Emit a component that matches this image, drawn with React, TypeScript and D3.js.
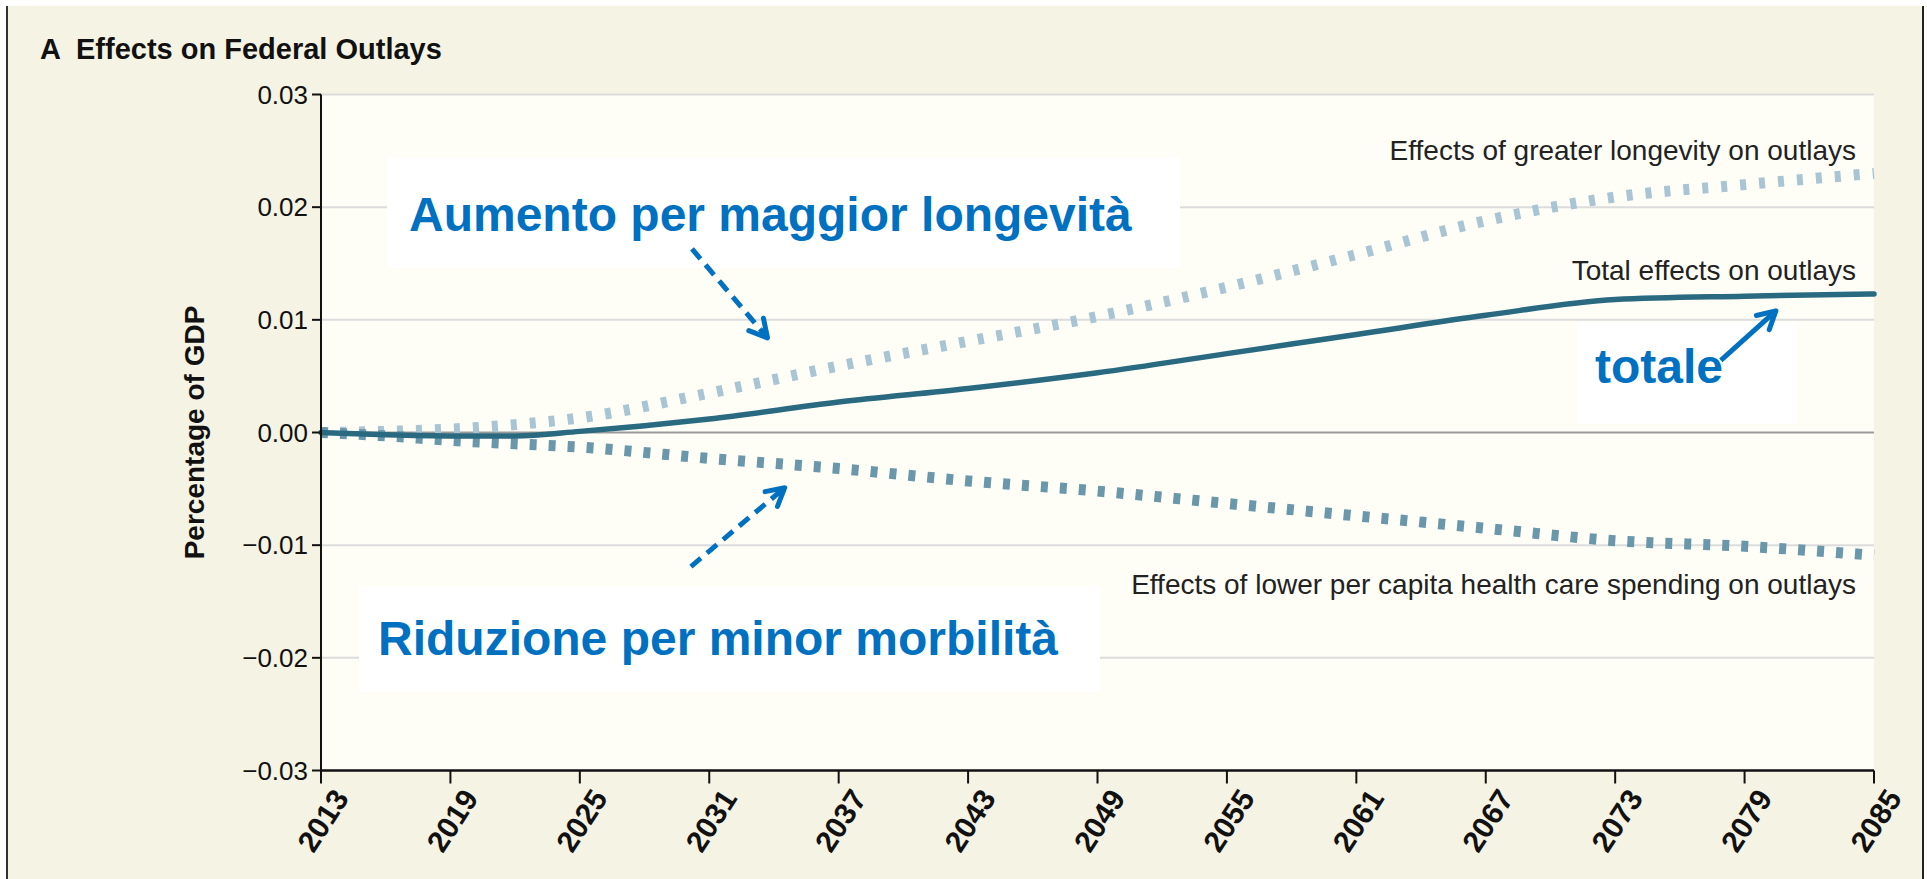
import * as d3 from 'd3';

// years and the three series (percentage of GDP)
const years = [2013, 2016, 2019, 2022, 2025, 2031, 2037, 2043, 2049, 2055, 2061, 2067, 2073, 2079, 2085];
const longevity = [0, 0.0001, 0.0003, 0.0007, 0.0013, 0.0035, 0.0059, 0.0081, 0.0103, 0.0129, 0.0158, 0.0188, 0.0209, 0.022, 0.023];
const lowerSpending = [0, -0.0003, -0.0007, -0.001, -0.0013, -0.0023, -0.0032, -0.0043, -0.0052, -0.0063, -0.0074, -0.0085, -0.0096, -0.0101, -0.0109];
const total = [0, -0.0002, -0.0003, -0.0003, 0.0001, 0.0012, 0.0027, 0.0039, 0.0053, 0.007, 0.0087, 0.0104, 0.0118, 0.0121, 0.0123];

const xTicks = d3.range(2013, 2086, 6);
const yTicks = [0.03, 0.02, 0.01, 0, -0.01, -0.02, -0.03];

const W = 1927;
const H = 879;
const margin = { top: 94.5, right: 53, bottom: 108.5, left: 321 };

const font = "'Liberation Sans', Arial, sans-serif";

function App() {
    const x = d3.scaleLinear().domain([2013, 2085]).range([margin.left, W - margin.right]);
    const y = d3.scaleLinear().domain([-0.03, 0.03]).range([H - margin.bottom, margin.top]);

    const line = (vals: number[]) =>
        d3.line<number>()
            .x((_, i) => x(years[i]))
            .y(d => y(d))
            .curve(d3.curveMonotoneX)(vals) || '';

    const fmt = (v: number) => (v < 0 ? '\u2212' : '') + Math.abs(v).toFixed(2);

    // annotation arrows in data space: [year, value] -> [year, value]
    const arrows = [
        { from: [2030.2, 0.0163], to: [2033.7, 0.0084], dash: '13 8' },
        { from: [2030.15, -0.0119], to: [2034.5, -0.0049], dash: '13 8' },
        { from: [2077.9, 0.0064], to: [2080.45, 0.0108], dash: null },
    ];

    const head = (a: any) => {
        const x1 = x(a.from[0]), y1 = y(a.from[1]);
        const x2 = x(a.to[0]), y2 = y(a.to[1]);
        const ang = Math.atan2(y2 - y1, x2 - x1);
        const L = 20;
        const s = 0.5;
        const p1 = [x2 - L * Math.cos(ang - s), y2 - L * Math.sin(ang - s)];
        const p2 = [x2 - L * Math.cos(ang + s), y2 - L * Math.sin(ang + s)];
        return `M${p1[0]},${p1[1]}L${x2},${y2}L${p2[0]},${p2[1]}`;
    };

    const plotH = H - margin.top - margin.bottom;
    const plotW = W - margin.left - margin.right;

    return (
        <svg width={W} height={H} style={{ position: 'absolute', left: 0, top: 0 }} fontFamily={font}>
            <rect x={0} y={0} width={W} height={H} fill='#ffffff' />
            <rect x={7} y={6} width={1916} height={H - 6} fill='#f5f3e4' />
            <line x1={7} y1={6} x2={7} y2={H} stroke='#333' strokeWidth={2} />
            <line x1={1923} y1={6} x2={1923} y2={H} stroke='#222' strokeWidth={2} />

            <text x={40} y={59} fontSize={29} fontWeight='bold' fill='#111'>A</text>
            <text x={76} y={59} fontSize={29} fontWeight='bold' fill='#111'>Effects on Federal Outlays</text>

            {/* plot area */}
            <rect x={margin.left} y={margin.top} width={plotW} height={plotH} fill='#fefef7' />
            {yTicks.filter(t => t !== 0 && t !== -0.03).map(t => (
                <line key={t} x1={margin.left} x2={W - margin.right} y1={y(t)} y2={y(t)} stroke='#dcdcdc' strokeWidth={2} />
            ))}

            {/* annotation boxes */}
            <rect x={387} y={157} width={793} height={111} fill='#ffffff' />
            <rect x={359} y={586} width={741} height={106} fill='#ffffff' />
            <rect x={1577} y={322} width={220} height={102} fill='#ffffff' />

            <line x1={margin.left} x2={W - margin.right} y1={y(0)} y2={y(0)} stroke='#9a9a9a' strokeWidth={2} />

            {/* series */}
            <path d={line(longevity)} fill='none' stroke='#a9c4d3' strokeWidth={11} strokeDasharray='6 13' />
            <path d={line(lowerSpending)} fill='none' stroke='#6b97ab' strokeWidth={11} strokeDasharray='7 12' />
            <path d={line(total)} fill='none' stroke='#2a6a80' strokeWidth={5.5} strokeLinecap='round' />

            {/* axes */}
            <line x1={margin.left} x2={margin.left} y1={margin.top} y2={H - margin.bottom} stroke='#111' strokeWidth={2} />
            <line x1={margin.left} x2={W - margin.right} y1={H - margin.bottom} y2={H - margin.bottom} stroke='#111' strokeWidth={2.5} />
            {yTicks.map(t => (
                <g key={t}>
                    <line x1={margin.left - 9} x2={margin.left} y1={y(t)} y2={y(t)} stroke='#111' strokeWidth={2} />
                    <text x={margin.left - 13} y={y(t)} dy='0.35em' textAnchor='end' fontSize={26} fill='#111'>{fmt(t)}</text>
                </g>
            ))}
            {xTicks.map(t => (
                <g key={t}>
                    <line x1={x(t)} x2={x(t)} y1={H - margin.bottom} y2={H - margin.bottom + 13} stroke='#111' strokeWidth={2} />
                    <text transform={`translate(${x(t) + 20},${H - margin.bottom + 22}) rotate(-57)`} textAnchor='end' dy='0.35em'
                        fontSize={30} fontWeight='bold' fill='#111'>{t}</text>
                </g>
            ))}
            <text transform={`translate(194,${y(0)}) rotate(-90)`} textAnchor='middle' dy='0.35em' fontSize={28} fontWeight='bold' fill='#111'>Percentage of GDP</text>

            {/* series labels */}
            <text x={1856} y={160} textAnchor='end' fontSize={28} fill='#222'>Effects of greater longevity on outlays</text>
            <text x={1856} y={280} textAnchor='end' fontSize={28} fill='#222'>Total effects on outlays</text>
            <text x={1856} y={594} textAnchor='end' fontSize={28} fill='#222'>Effects of lower per capita health care spending on outlays</text>

            {/* annotations */}
            <text x={409} y={231} fontSize={48} fontWeight='bold' fill='#0070c0'>Aumento per maggior longevità</text>
            <text x={378} y={655} fontSize={48} fontWeight='bold' fill='#0070c0'>Riduzione per minor morbilità</text>
            <text x={1595} y={383} fontSize={48} fontWeight='bold' fill='#0070c0'>totale</text>
            {arrows.map((a, i) => (
                <g key={i} stroke='#0070c0' strokeWidth={5} fill='none'>
                    <line x1={x(a.from[0])} y1={y(a.from[1])} x2={x(a.to[0])} y2={y(a.to[1])}
                        strokeDasharray={a.dash || undefined} />
                    <path d={head(a)} strokeLinecap='round' strokeLinejoin='round' />
                </g>
            ))}
        </svg>
    );
}

export default App;
